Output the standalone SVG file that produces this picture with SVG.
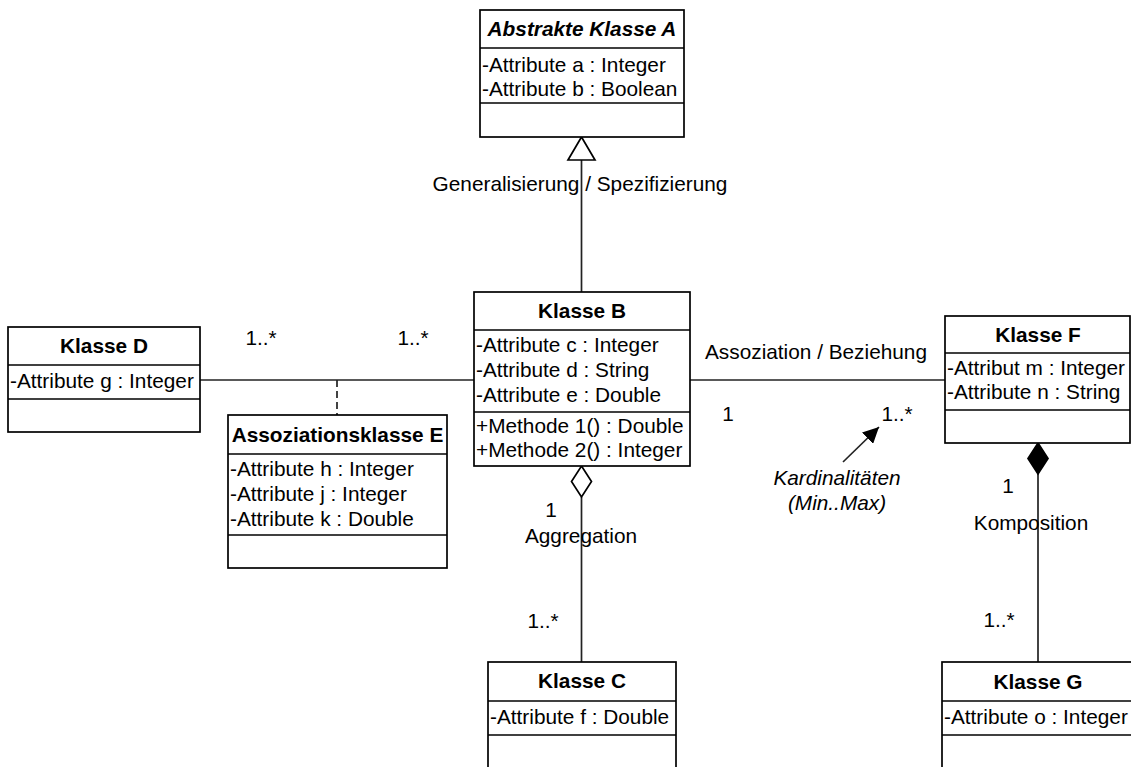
<svg xmlns="http://www.w3.org/2000/svg" width="1131" height="767" viewBox="0 0 1131 767">
  <style>
    text { font-family: "Liberation Sans", Arial, sans-serif; font-size: 20.8px; fill: #000; }
    .title { font-weight: bold; text-anchor: middle; }
    .abstract { font-style: italic; }
    .mid { text-anchor: middle; }
    .it { font-style: italic; }
    .box { fill: #fff; stroke: #000; stroke-width: 1.7; }
    .sep { stroke: #000; stroke-width: 1.7; fill: none; }
    .edge { stroke: #222; stroke-width: 1.7; fill: none; }
  </style>
  <defs>
    <marker id="head" viewBox="0 0 10 10" refX="10" refY="5" markerWidth="10" markerHeight="10" markerUnits="userSpaceOnUse" orient="auto">
      <path d="M0,0 L10,5 L0,10 Z" fill="#000"/>
    </marker>
    <marker id="pointer" viewBox="0 0 16 16" refX="16" refY="8" markerWidth="16" markerHeight="16" markerUnits="userSpaceOnUse" orient="auto">
      <path d="M0,0 L16,8 L0,16 Z" fill="#000"/>
    </marker>
  </defs>

  <!-- connectors -->
  <g id="connectors">
    <!-- generalisation B -> A -->
    <line class="edge" x1="581.5" y1="160" x2="581.5" y2="292"/>
    <path d="M581.5,137 L595,160 L568,160 Z" fill="#fff" stroke="#000" stroke-width="1.7"/>
    <text class="mid" x="580" y="191">Generalisierung / Spezifizierung</text>

    <!-- association D - B -->
    <line class="edge" x1="200" y1="380" x2="474" y2="380"/>
    <line class="edge" x1="337" y1="380" x2="337" y2="415" stroke-dasharray="7,4"/>
    <text class="mid" x="261" y="345">1..*</text>
    <text class="mid" x="413" y="345">1..*</text>

    <!-- association B - F -->
    <line class="edge" x1="690" y1="380" x2="945" y2="380"/>
    <text class="mid" x="816" y="359">Assoziation / Beziehung</text>
    <text class="mid" x="728" y="421">1</text>
    <text class="mid" x="897" y="421">1..*</text>

    <!-- note pointer -->
    <line class="edge" x1="843" y1="462" x2="879" y2="427" stroke="#000" marker-end="url(#pointer)"/>
    <text class="mid it" x="837" y="485">Kardinalitäten</text>
    <text class="mid it" x="837" y="510">(Min..Max)</text>

    <!-- aggregation B <>- C -->
    <line class="edge" x1="581.5" y1="497" x2="581.5" y2="662"/>
    <path d="M581.5,466 L591.5,481.5 L581.5,497 L571.5,481.5 Z" fill="#fff" stroke="#000" stroke-width="1.7"/>
    <text class="mid" x="551" y="517">1</text>
    <text class="mid" x="581" y="543">Aggregation</text>
    <text class="mid" x="543" y="628">1..*</text>

    <!-- composition F <*>- G -->
    <line class="edge" x1="1038" y1="474" x2="1038" y2="662"/>
    <path d="M1038,443 L1048,458.5 L1038,474 L1028,458.5 Z" fill="#000" stroke="#000" stroke-width="1.7"/>
    <text class="mid" x="1008" y="493">1</text>
    <text class="mid" x="1031" y="530">Komposition</text>
    <text class="mid" x="999" y="627">1..*</text>
  </g>

  <!-- Abstrakte Klasse A -->
  <g id="klasse-a">
    <rect class="box" x="480" y="10" width="204" height="127"/>
    <line class="sep" x1="480" y1="48" x2="684" y2="48"/>
    <line class="sep" x1="480" y1="103" x2="684" y2="103"/>
    <text class="title abstract" x="582" y="36">Abstrakte Klasse A</text>
    <text x="482" y="72">-Attribute a : Integer</text>
    <text x="482" y="96">-Attribute b : Boolean</text>
  </g>

  <!-- Klasse B -->
  <g id="klasse-b">
    <rect class="box" x="474" y="292" width="216" height="174"/>
    <line class="sep" x1="474" y1="330" x2="690" y2="330"/>
    <line class="sep" x1="474" y1="412" x2="690" y2="412"/>
    <text class="title" x="582" y="318">Klasse B</text>
    <text x="476" y="352">-Attribute c : Integer</text>
    <text x="476" y="377">-Attribute d : String</text>
    <text x="476" y="402">-Attribute e : Double</text>
    <text x="476" y="433">+Methode 1() : Double</text>
    <text x="476" y="457">+Methode 2() : Integer</text>
  </g>

  <!-- Klasse C -->
  <g id="klasse-c">
    <rect class="box" x="488" y="662" width="188" height="120"/>
    <line class="sep" x1="488" y1="701" x2="676" y2="701"/>
    <line class="sep" x1="488" y1="735" x2="676" y2="735"/>
    <text class="title" x="582" y="688">Klasse C</text>
    <text x="490" y="724">-Attribute f : Double</text>
  </g>

  <!-- Klasse D -->
  <g id="klasse-d">
    <rect class="box" x="8" y="327" width="192" height="105"/>
    <line class="sep" x1="8" y1="365" x2="200" y2="365"/>
    <line class="sep" x1="8" y1="399" x2="200" y2="399"/>
    <text class="title" x="104" y="353">Klasse D</text>
    <text x="10" y="388">-Attribute g : Integer</text>
  </g>

  <!-- Assoziationsklasse E -->
  <g id="klasse-e">
    <rect class="box" x="228" y="415" width="219" height="153"/>
    <line class="sep" x1="228" y1="454" x2="447" y2="454"/>
    <line class="sep" x1="228" y1="535" x2="447" y2="535"/>
    <text class="title" x="337.5" y="442">Assoziationsklasse E</text>
    <text x="230" y="476">-Attribute h : Integer</text>
    <text x="230" y="501">-Attribute j : Integer</text>
    <text x="230" y="526">-Attribute k : Double</text>
  </g>

  <!-- Klasse F -->
  <g id="klasse-f">
    <rect class="box" x="945" y="316" width="185" height="127"/>
    <line class="sep" x1="945" y1="353" x2="1130" y2="353"/>
    <line class="sep" x1="945" y1="410" x2="1130" y2="410"/>
    <text class="title" x="1038" y="342">Klasse F</text>
    <text x="947" y="375">-Attribut m : Integer</text>
    <text x="947" y="399">-Attribute n : String</text>
  </g>

  <!-- Klasse G -->
  <g id="klasse-g">
    <rect class="box" x="942" y="662" width="192" height="120"/>
    <line class="sep" x1="942" y1="701" x2="1134" y2="701"/>
    <line class="sep" x1="942" y1="735" x2="1134" y2="735"/>
    <text class="title" x="1038" y="689">Klasse G</text>
    <text x="944" y="724">-Attribute o : Integer</text>
  </g>
</svg>
